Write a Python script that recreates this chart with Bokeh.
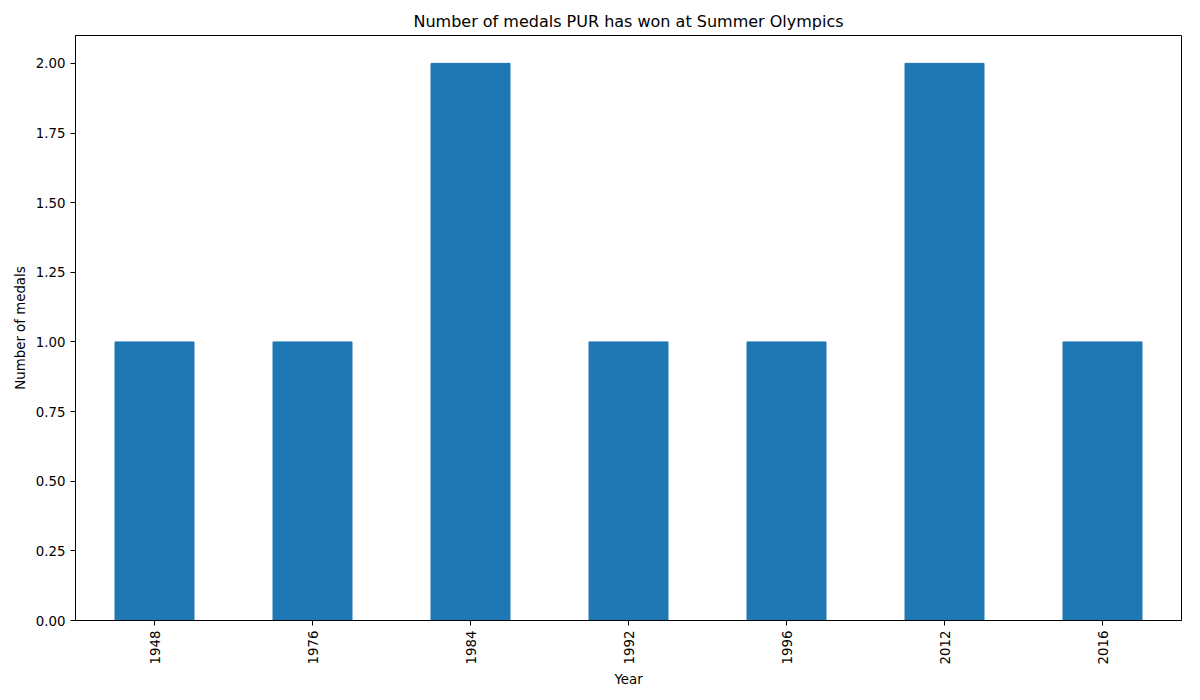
import math
from bokeh.plotting import figure
from bokeh.models import FactorRange, Range1d, FixedTicker, PrintfTickFormatter
from bokeh.embed import file_html
from bokeh.resources import INLINE

years = ["1948", "1976", "1984", "1992", "1996", "2012", "2016"]
medals = [1, 1, 2, 1, 1, 2, 1]

p = figure(x_range=FactorRange(*years, range_padding=0), y_range=Range1d(0, 2.1),
           output_backend="svg", toolbar_location=None,
           frame_width=1106, frame_height=585, width=1184, height=684,
           min_border_left=75, min_border_right=3, min_border_top=35, min_border_bottom=64,
           title="Number of medals PUR has won at Summer Olympics")
p.vbar(x=years, top=medals, width=0.5, color="#1f77b4")
p.title.align = "center"
p.title.text_font = "DejaVu Sans"
p.title.text_font_style = "normal"
p.title.text_font_size = "12pt"
p.title.text_color = "black"
p.xgrid.visible = False
p.ygrid.visible = False
p.outline_line_color = "black"
p.yaxis.ticker = FixedTicker(ticks=[i * 0.25 for i in range(9)])
p.yaxis.formatter = PrintfTickFormatter(format="%.2f")
p.xaxis.major_label_orientation = math.pi / 2
p.xaxis.axis_label = "Year"
p.yaxis.axis_label = "Number of medals"
for ax in (p.xaxis, p.yaxis):
    ax.axis_label_text_font = "DejaVu Sans"
    ax.axis_label_text_font_style = "normal"
    ax.axis_label_text_font_size = "10pt"
    ax.axis_label_text_color = "black"
    ax.major_label_text_font = "DejaVu Sans"
    ax.major_label_text_font_size = "10pt"
    ax.major_label_text_color = "black"
    ax.minor_tick_line_color = None
    ax.major_tick_in = 0
    ax.major_tick_out = 5
    ax.major_tick_line_color = "black"
    ax.axis_line_color = "black"
    ax.axis_label_standoff = 5

open("out.html", "w").write(file_html(p, INLINE))
